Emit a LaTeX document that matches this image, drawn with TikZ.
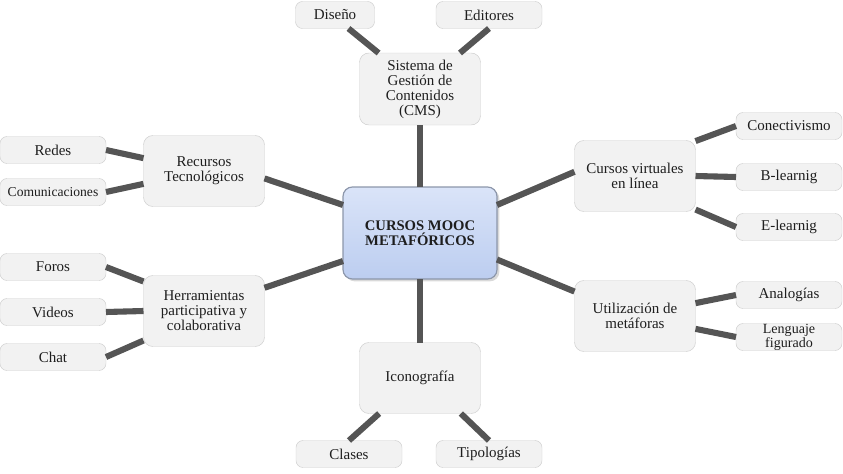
\documentclass[tikz,border=0pt]{standalone}
\usepackage{fontspec}
\setmainfont{Liberation Serif}
\usetikzlibrary{shadows, positioning}
\definecolor{boxfill}{RGB}{242,242,242}
\definecolor{boxline}{RGB}{205,205,205}
\definecolor{hubtop}{RGB}{218,228,248}
\definecolor{hubfill}{RGB}{188,205,240}
\definecolor{hubline}{RGB}{140,150,170}
\definecolor{linkgray}{RGB}{85,85,85}
\definecolor{textgray}{RGB}{30,30,30}
\tikzstyle{hub} = [rectangle, rounded corners=8pt, minimum width=4.62cm, minimum height=2.76cm, align=center, draw=hubline, line width=1pt, top color=hubtop, bottom color=hubfill, drop shadow={opacity=0.3, shadow xshift=2pt, shadow yshift=-2pt}, font=\fontsize{12.5}{13}\selectfont\bfseries]
\tikzstyle{topic} = [rectangle, rounded corners=8pt, minimum width=3.63cm, minimum height=2.13cm, align=center, draw=boxline, fill=boxfill]
\tikzstyle{leaf} = [rectangle, rounded corners=6pt, minimum width=3.18cm, minimum height=0.81cm, align=center, draw=boxline, fill=boxfill]
\tikzstyle{link} = [line width=5.2pt, draw=linkgray]

\begin{document}
\begin{tikzpicture}[x=0.03cm, y=-0.03cm, every node/.style={outer sep=0pt, text=textgray, font=\fontsize{12.8}{12.8}\selectfont}]
        \useasboundingbox (0,0) rectangle (843,473);

        % Nodes
        \node (hub) [hub] at (420,233) {CURSOS MOOC\\METAFÓRICOS};

        \node (cms) [topic, minimum height=2.16cm] at (420,89) {Sistema de\\Gestión de\\Contenidos\\(CMS)};
        \node (diseno) [leaf, minimum width=2.37cm] at (335,15) {Diseño};
        \node (editores) [leaf] at (489,15) {Editores};

        \node (recursos) [topic] at (204,171) {Recursos\\Tecnológicos};
        \node (redes) [leaf] at (53,150) {Redes};
        \node (comunic) [leaf, font=\fontsize{11.6}{12}\selectfont] at (53,192) {Comunicaciones};

        \node (herram) [topic] at (204,311) {Herramientas\\participativa y\\colaborativa};
        \node (foros) [leaf] at (53,267) {Foros};
        \node (videos) [leaf] at (53,312) {Videos};
        \node (chat) [leaf] at (53,357) {Chat};

        \node (virtuales) [topic] at (635,176) {Cursos virtuales\\en línea};
        \node (conect) [leaf] at (789,126) {Conectivismo};
        \node (blearn) [leaf] at (789,177) {B-learnig};
        \node (elearn) [leaf] at (789,227) {E-learnig};

        \node (metaforas) [topic] at (635,316) {Utilización de\\metáforas};
        \node (analog) [leaf] at (789,295) {Analogías};
        \node (lenguaje) [leaf, inner sep=0pt, font=\fontsize{12}{10.5}\selectfont] at (789,337) {Lenguaje\\figurado};

        \node (icono) [topic] at (420,378) {Iconografía};
        \node (clases) [leaf] at (349,454) {Clases};
        \node (tipolog) [leaf] at (489,454) {Tipologías};

        % Links
        \draw [link] (hub.north) -- (cms.south);
        \draw [link] (hub.south) -- (icono.north);
        \draw [link] (hub.160) -- (recursos.-7);
        \draw [link] (hub.200) -- (herram.21);
        \draw [link] (hub.20) -- (virtuales.176);
        \draw [link] (hub.-19) -- (metaforas.158);

        \draw [link] (cms.139) -- (diseno.-45);
        \draw [link] (cms.42) -- (editores.south);

        \draw [link] (recursos.168) -- (redes.east);
        \draw [link] (recursos.-168) -- (comunic.east);

        \draw [link] (herram.154) -- (foros.east);
        \draw [link] (herram.west) -- (videos.east);
        \draw [link] (herram.206) -- (chat.east);

        \draw [link] (virtuales.30) -- (conect.west);
        \draw [link] (virtuales.east) -- (blearn.west);
        \draw [link] (virtuales.-29) -- (elearn.west);

        \draw [link] (metaforas.12) -- (analog.west);
        \draw [link] (metaforas.-12) -- (lenguaje.west);

        \draw [link] (icono.221) -- (clases.north);
        \draw [link] (icono.-41) -- (tipolog.north);

    \end{tikzpicture}
\end{document}
